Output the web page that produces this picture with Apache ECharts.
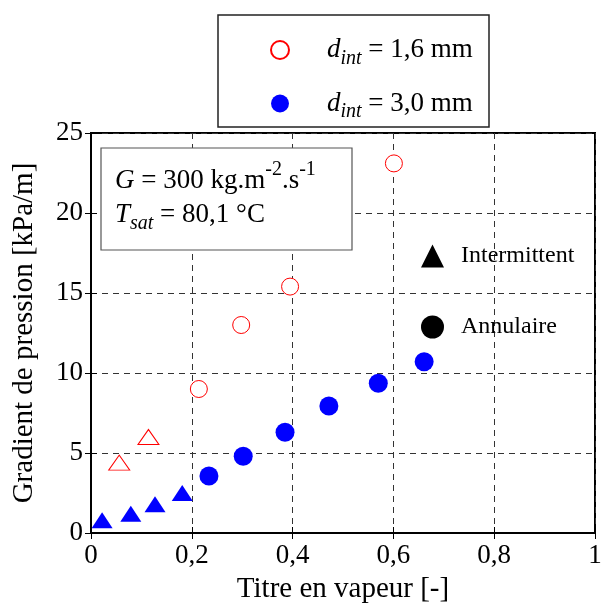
<!DOCTYPE html>
<html>
<head>
<meta charset="utf-8">
<script src="https://cdn.jsdelivr.net/npm/echarts@6/dist/echarts.min.js"></script>
<style>html,body{margin:0;padding:0;background:#fff;}#c{width:601px;height:607px;}</style>
</head>
<body>
<div id="c"></div>
<script>
// ---- data ----
var x16Ann = [0.214, 0.298, 0.395, 0.601];
var y16Ann = [9.0, 13.0, 15.4, 23.1];
var x16Int = [0.056, 0.114];
var y16Int = [4.4, 6.0];
var x30Int = [0.022, 0.079, 0.127, 0.181];
var y30Int = [0.8, 1.2, 1.8, 2.5];
var x30Ann = [0.234, 0.302, 0.385, 0.472, 0.570, 0.661];
var y30Ann = [3.56, 4.8, 6.3, 7.94, 9.36, 10.7];
var xTicks = [0, 0.2, 0.4, 0.6, 0.8, 1];
var yTicks = [0, 5, 10, 15, 20, 25];
var xTitle = 'Titre en vapeur [-]';
var yTitle = 'Gradient de pression [kPa/m]';

function pairs(xs, ys){ return xs.map(function(x,i){ return [x, ys[i]]; }); }
var FF = "'Liberation Serif','Times New Roman',serif";

var chart = echarts.init(document.getElementById('c'), null, {renderer:'canvas'});
var option = {
  animation: false,
  backgroundColor: '#fff',
  textStyle: {fontFamily: FF, color: '#000'},
  grid: {left: 91, right: 6, top: 133, bottom: 74, outerBoundsMode: 'none', containLabel: false,
    show: true, borderColor: '#000', borderWidth: 2, backgroundColor: 'transparent'},
  xAxis: [{
    type: 'value', min: xTicks[0], max: xTicks[xTicks.length-1], interval: 0.2,
    name: xTitle, nameLocation: 'middle', nameGap: 42,
    nameTextStyle: {fontFamily: FF, fontSize: 29, color: '#000'},
    axisLine: {show: true, lineStyle: {color: '#000', width: 2}},
    axisTick: {show: true, inside: true, length: 6, lineStyle: {color: '#000', width: 1}},
    axisLabel: {fontFamily: FF, fontSize: 27, color: '#000', margin: 9,
      formatter: function(v){ return String(+v.toFixed(1)).replace('.', ','); }},
    splitLine: {show: true, lineStyle: {color: '#333', type: [6,5], width: 1}}
  },{
    type: 'value', position: 'top', min: xTicks[0], max: xTicks[xTicks.length-1], interval: 0.2,
    axisLine: {show: false}, axisTick: {show: true, inside: true, length: 6, lineStyle: {color: '#000'}},
    axisLabel: {show: false}, splitLine: {show: false}
  }],
  yAxis: [{
    type: 'value', min: yTicks[0], max: yTicks[yTicks.length-1], interval: 5,
    name: yTitle, nameLocation: 'middle', nameGap: 52,
    nameTextStyle: {fontFamily: FF, fontSize: 29, color: '#000'},
    axisLine: {show: true, lineStyle: {color: '#000', width: 2}},
    axisTick: {show: true, inside: true, length: 6, lineStyle: {color: '#000', width: 1}},
    axisLabel: {fontFamily: FF, fontSize: 27, color: '#000', margin: 8},
    splitLine: {show: true, lineStyle: {color: '#333', type: [6,5], width: 1}}
  },{
    type: 'value', position: 'right', min: yTicks[0], max: yTicks[yTicks.length-1], interval: 5,
    axisLine: {show: false}, axisTick: {show: true, inside: true, length: 6, lineStyle: {color: '#000'}},
    axisLabel: {show: false}, splitLine: {show: false}
  }],
  legend: [{
    orient: 'vertical', left: 265, top: 30, itemGap: 20,
    itemWidth: 18, itemHeight: 18,
    data: ['d16', 'd30'],
    formatter: function(n){ return n === 'd16' ? '{sp|}{d|d}{sub|int}{n| = 1,6 mm}' : '{sp|}{d|d}{sub|int}{n| = 3,0 mm}'; },
    textStyle: {
      fontFamily: FF, fontSize: 27, color: '#000', lineHeight: 30,
      rich: {
        sp: {width: 33},
        d: {fontFamily: FF, fontSize: 27, fontStyle: 'italic', color: '#000'},
        sub: {fontFamily: FF, fontSize: 20, fontStyle: 'italic', color: '#000', padding: [17,0,0,0]},
        n: {fontFamily: FF, fontSize: 27, color: '#000'}
      }
    }
  },{
    orient: 'vertical', left: 416, top: 236, itemGap: 41,
    itemWidth: 23, itemHeight: 23,
    data: ['Intermittent', 'Annulaire'],
    formatter: function(n){ return '{sp|}' + n; },
    textStyle: {fontFamily: FF, fontSize: 24, color: '#000', lineHeight: 30, rich: {sp: {width: 12}}}
  }],
  graphic: [
    {type: 'rect', z: 100, shape: {x: 218, y: 15, width: 271, height: 112}, style: {fill: 'transparent', stroke: '#222', lineWidth: 1.5}},
    {type: 'rect', z: 5, shape: {x: 101, y: 148, width: 251, height: 102}, style: {fill: '#fff', stroke: '#555', lineWidth: 1.2}},
    {type: 'text', z: 6, x: 115, y: 160, style: {
      text: '{i|G}{n| = 300 kg.m}{sup|-2}{n|.s}{sup|-1}',
      fontFamily: FF, fontSize: 27, fill: '#000',
      rich: {
        i: {fontFamily: FF, fontSize: 27, fontStyle: 'italic'},
        n: {fontFamily: FF, fontSize: 27},
        sup: {fontFamily: FF, fontSize: 20, padding: [0,0,22,0]}
      }}},
    {type: 'text', z: 6, x: 115, y: 196, style: {
      text: '{i|T}{sub|sat}{n| = 80,1 °C}',
      fontFamily: FF, fontSize: 27, fill: '#000',
      rich: {
        i: {fontFamily: FF, fontSize: 27, fontStyle: 'italic'},
        n: {fontFamily: FF, fontSize: 27},
        sub: {fontFamily: FF, fontSize: 20, fontStyle: 'italic', padding: [18,0,0,0]}
      }}}
  ],
  series: [
    {name: 'd16', type: 'scatter', data: pairs(x16Ann, y16Ann), symbol: 'circle', symbolSize: 17,
      itemStyle: {color: '#fff', borderColor: '#ff0000', borderWidth: 1, opacity: 1}, z: 10},
    {name: 'd16i', type: 'scatter', data: pairs(x16Int, y16Int), symbol: 'triangle', symbolSize: [21, 15],
      itemStyle: {color: '#fff', borderColor: '#ff0000', borderWidth: 1, opacity: 1}, z: 10},
    {name: 'd30i', type: 'scatter', data: pairs(x30Int, y30Int), symbol: 'triangle', symbolSize: [21, 16],
      itemStyle: {color: '#0000ff', opacity: 1}, z: 10},
    {name: 'd30', type: 'scatter', data: pairs(x30Ann, y30Ann), symbol: 'circle', symbolSize: 19,
      itemStyle: {color: '#0000ff', opacity: 1}, z: 10},
    {name: 'Intermittent', type: 'scatter', data: [], symbol: 'triangle', itemStyle: {color: '#000', opacity: 1}},
    {name: 'Annulaire', type: 'scatter', data: [], symbol: 'circle', itemStyle: {color: '#000', opacity: 1}}
  ]
};
chart.setOption(option);
</script>
</body>
</html>
